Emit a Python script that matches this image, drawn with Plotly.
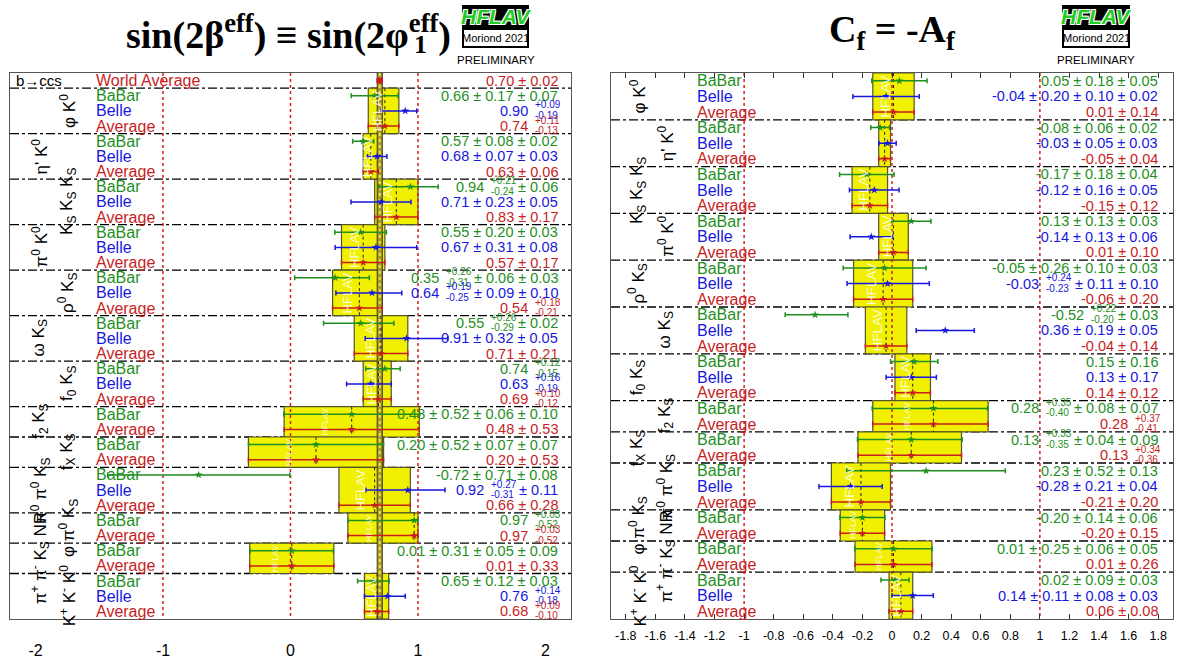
import math
import plotly.graph_objects as go

W, H = 1177, 662
SANS = "Liberation Sans, Arial, Helvetica, sans-serif"
SERIF = "Liberation Serif, Times New Roman, Times, serif"
GREEN = "#1f8f1f"
BLUE = "#1717e0"
RED = "#c81e1e"
EXP_COLOR = {"BaBar": GREEN, "Belle": BLUE, "Average": RED}

# ---------------- data ----------------
decays = ["φ K<sup>0</sup>", "η' K<sup>0</sup>", "K<sub>S</sub> K<sub>S</sub> K<sub>S</sub>",
          "π<sup>0</sup> K<sup>0</sup>", "ρ<sup>0</sup> K<sub>S</sub>", "ω K<sub>S</sub>",
          "f<sub>0</sub> K<sub>S</sub>", "f<sub>2</sub> K<sub>S</sub>", "f<sub>X</sub> K<sub>S</sub>",
          "π<sup>0</sup> π<sup>0</sup> K<sub>S</sub>", "φ π<sup>0</sup> K<sub>S</sub>",
          "π<sup>+</sup> π<sup>-</sup> K<sub>S</sub> NR", "K<sup>+</sup> K<sup>-</sup> K<sup>0</sup>"]

# sin(2beta_eff): errors given as (plus, minus) per component
S_wa_val = 0.70
S_wa_err = 0.02
S_babar_val = [0.66, 0.57, 0.94, 0.55, 0.35, 0.55, 0.74, 0.48, 0.20, -0.72, 0.97, 0.01, 0.65]
S_babar_err = [[(0.17, 0.17), (0.07, 0.07)], [(0.08, 0.08), (0.02, 0.02)], [(0.21, 0.24), (0.06, 0.06)],
               [(0.20, 0.20), (0.03, 0.03)], [(0.26, 0.31), (0.06, 0.06), (0.03, 0.03)],
               [(0.26, 0.29), (0.02, 0.02)], [(0.12, 0.15)], [(0.52, 0.52), (0.06, 0.06), (0.10, 0.10)],
               [(0.52, 0.52), (0.07, 0.07), (0.07, 0.07)], [(0.71, 0.71), (0.08, 0.08)], [(0.03, 0.52)],
               [(0.31, 0.31), (0.05, 0.05), (0.09, 0.09)], [(0.12, 0.12), (0.03, 0.03)]]
S_belle_val = [0.90, 0.68, 0.71, 0.67, 0.64, 0.91, 0.63, None, None, 0.92, None, None, 0.76]
S_belle_err = [[(0.09, 0.19)], [(0.07, 0.07), (0.03, 0.03)], [(0.23, 0.23), (0.05, 0.05)],
               [(0.31, 0.31), (0.08, 0.08)], [(0.19, 0.25), (0.09, 0.09), (0.10, 0.10)],
               [(0.32, 0.32), (0.05, 0.05)], [(0.16, 0.19)], None, None, [(0.27, 0.31), (0.11, 0.11)],
               None, None, [(0.14, 0.18)]]
S_avg_val = [0.74, 0.63, 0.83, 0.57, 0.54, 0.71, 0.69, 0.48, 0.20, 0.66, 0.97, 0.01, 0.68]
S_avg_err = [(0.11, 0.13), (0.06, 0.06), (0.17, 0.17), (0.17, 0.17), (0.18, 0.21), (0.21, 0.21),
             (0.10, 0.12), (0.53, 0.53), (0.53, 0.53), (0.28, 0.28), (0.03, 0.52), (0.33, 0.33), (0.09, 0.10)]

# C_f = -A_f
C_babar_val = [0.05, -0.08, -0.17, 0.13, -0.05, -0.52, 0.15, 0.28, 0.13, 0.23, -0.20, 0.01, 0.02]
C_babar_err = [[(0.18, 0.18), (0.05, 0.05)], [(0.06, 0.06), (0.02, 0.02)], [(0.18, 0.18), (0.04, 0.04)],
               [(0.13, 0.13), (0.03, 0.03)], [(0.26, 0.26), (0.10, 0.10), (0.03, 0.03)],
               [(0.22, 0.20), (0.03, 0.03)], [(0.16, 0.16)], [(0.35, 0.40), (0.08, 0.08), (0.07, 0.07)],
               [(0.33, 0.35), (0.04, 0.04), (0.09, 0.09)], [(0.52, 0.52), (0.13, 0.13)],
               [(0.14, 0.14), (0.06, 0.06)], [(0.25, 0.25), (0.06, 0.06), (0.05, 0.05)],
               [(0.09, 0.09), (0.03, 0.03)]]
C_belle_val = [-0.04, -0.03, -0.12, -0.14, -0.03, 0.36, 0.13, None, None, -0.28, None, None, 0.14]
C_belle_err = [[(0.20, 0.20), (0.10, 0.10), (0.02, 0.02)], [(0.05, 0.05), (0.03, 0.03)],
               [(0.16, 0.16), (0.05, 0.05)], [(0.13, 0.13), (0.06, 0.06)],
               [(0.24, 0.23), (0.11, 0.11), (0.10, 0.10)], [(0.19, 0.19), (0.05, 0.05)], [(0.17, 0.17)],
               None, None, [(0.21, 0.21), (0.04, 0.04)], None, None,
               [(0.11, 0.11), (0.08, 0.08), (0.03, 0.03)]]
C_avg_val = [0.01, -0.05, -0.15, 0.01, -0.06, -0.04, 0.14, 0.28, 0.13, -0.21, -0.20, 0.01, 0.06]
C_avg_err = [(0.14, 0.14), (0.04, 0.04), (0.12, 0.12), (0.10, 0.10), (0.20, 0.20), (0.14, 0.14),
             (0.12, 0.12), (0.37, 0.41), (0.34, 0.36), (0.20, 0.20), (0.15, 0.15), (0.26, 0.26), (0.08, 0.08)]

S_ticks = [-2, -1, 0, 1, 2]
C_ticks = [-1.8, -1.6, -1.4, -1.2, -1.0, -0.8, -0.6, -0.4, -0.2, 0.0, 0.2, 0.4, 0.6, 0.8, 1.0, 1.2, 1.4, 1.6, 1.8]
ref_lines = [-1, 0, 1]

# ---------------- helpers ----------------
CW = {c: 0.556 for c in "0123456789"}
CW.update({".": 0.278, " ": 0.278, "±": 0.584, "+": 0.584, "-": 0.333})


def tw(s, size):
    return sum(CW.get(c, 0.556) for c in s) * size


def quad(errs):
    hi = math.sqrt(sum(p * p for p, m in errs))
    lo = math.sqrt(sum(m * m for p, m in errs))
    return hi, lo


def tick_txt(v):
    if abs(v - round(v)) < 1e-9:
        return str(int(round(v)))
    return f"{v:.1f}"


def value_tokens(v, errs):
    toks, cur = [], f"{v:.2f}"
    for p, m in errs:
        if abs(p - m) < 1e-9:
            cur += f" ± {p:.2f}"
        else:
            toks.append(("t", cur.strip()))
            toks.append(("s", f"+{p:.2f}", f"-{m:.2f}"))
            cur = ""
    if cur.strip():
        toks.append(("t", cur.strip()))
    return toks


annotations = []
shapes = []
traces = []

Y_TOP, Y_BOT = 73, 619


def add_value(right_px, yref, y, v, errs, color, F=14.5, f=10, gap=3):
    x = right_px
    for tok in reversed(value_tokens(v, errs)):
        if tok[0] == "t":
            annotations.append(dict(xref="paper", yref=yref, x=x / W, y=y, xanchor="right", yanchor="middle",
                                    text=tok[1], showarrow=False, borderpad=0,
                                    font=dict(family=SANS, size=F, color=color)))
            x -= tw(tok[1], F) + gap
        else:
            w = max(tw(tok[1], f), tw(tok[2], f))
            for txt, dy in ((tok[1], 6), (tok[2], -4.5)):
                annotations.append(dict(xref="paper", yref=yref, x=(x - w) / W, y=y, xanchor="left",
                                        yanchor="middle", yshift=dy, text=txt, showarrow=False, borderpad=0,
                                        font=dict(family=SANS, size=f, color=color)))
            x -= w + gap + 2


def panel(xa, ya, dom, rng, nrows, offset, exp_x, val_right, cols, first_col,
          bab_v, bab_e, bel_v, bel_e, avg_v, avg_e):
    ppu = (dom[1] - dom[0]) / (rng[1] - rng[0])
    rows, groups = [], []
    for g in range(len(decays)):
        start = len(rows)
        rows.append(("BaBar", bab_v[g], bab_e[g]))
        if bel_v[g] is not None:
            rows.append(("Belle", bel_v[g], bel_e[g]))
        rows.append(("Average", avg_v[g], [avg_e[g]]))
        groups.append((start, len(rows)))
    # yellow average boxes
    for g, (s, e) in enumerate(groups):
        v = avg_v[g]
        hi, lo = avg_e[g]
        shapes.append(dict(type="rect", xref=xa, yref=ya, x0=v - lo, x1=v + hi, y0=s + offset, y1=e + offset,
                           fillcolor="#f0f000", line=dict(color="#55552b", width=1.2), layer="below"))
    # HFLAV watermark inside boxes
    for g, (s, e) in enumerate(groups):
        v = avg_v[g]
        hi, lo = avg_e[g]
        wpx = (hi + lo) * ppu
        hpx = (e - s) * (Y_BOT - Y_TOP) / nrows
        if wpx >= 13:
            size = min(14, hpx / 3.5)
            annotations.append(dict(xref=xa, yref=ya, x=v - lo + (hi + lo) * 0.3, y=(s + e) / 2 + offset,
                                    text="HFLAV", textangle=-90, showarrow=False,
                                    font=dict(family=SANS, size=size, color="rgba(255,255,255,0.85)")))
    # reference lines
    for r in ref_lines:
        shapes.append(dict(type="line", xref=xa, yref=ya, x0=r, x1=r, y0=0, y1=nrows,
                           line=dict(color="#d42020", width=1.5, dash="dot"), layer="below"))
    # dotted average line in box
    for g, (s, e) in enumerate(groups):
        shapes.append(dict(type="line", xref=xa, yref=ya, x0=avg_v[g], x1=avg_v[g], y0=s + offset,
                           y1=e + offset, line=dict(color="#222", width=1, dash="dot"), layer="below"))
    # separators
    seps = [s + offset for s, e in groups]
    for sy in seps:
        if sy > 0:
            shapes.append(dict(type="line", xref=xa + " domain", yref=ya, x0=0, x1=1, y0=sy, y1=sy,
                               line=dict(color="black", width=1.3, dash="dashdot"), layer="below"))
    # points with error bars
    for exp in ("BaBar", "Belle", "Average"):
        xs, ys, his, los = [], [], [], []
        for i, (ex, v, errs) in enumerate(rows):
            if ex != exp:
                continue
            hi, lo = quad(errs)
            xs.append(v)
            ys.append(i + 0.5 + offset)
            his.append(hi)
            los.append(lo)
        traces.append(go.Scatter(x=xs, y=ys, xaxis=xa, yaxis=ya, mode="markers", showlegend=False,
                                 marker=dict(symbol="star", size=6, color=EXP_COLOR[exp]),
                                 error_x=dict(type="data", symmetric=False, array=his, arrayminus=los,
                                              color=EXP_COLOR[exp], thickness=1.5, width=2.5)))
    # texts
    for i, (ex, v, errs) in enumerate(rows):
        y = i + 0.5 + offset
        annotations.append(dict(xref="paper", yref=ya, x=exp_x / W, y=y, xanchor="left", yanchor="middle",
                                text=ex, showarrow=False, borderpad=0,
                                font=dict(family=SANS, size=16, color=EXP_COLOR[ex])))
        add_value(val_right, ya, y, v, errs, EXP_COLOR[ex])
    for g, (s, e) in enumerate(groups):
        cx = cols[(g + first_col) % 2]
        annotations.append(dict(xref="paper", yref=ya, x=cx / W, y=(s + e) / 2 + offset, xanchor="center",
                                yanchor="middle", text=decays[g], textangle=-90, showarrow=False,
                                font=dict(family=SANS, size=17, color="black")))


# ---- left panel: sin(2beta) ----
# world average band
shapes.append(dict(type="rect", xref="x", yref="y", x0=S_wa_val - S_wa_err, x1=S_wa_val + S_wa_err, y0=0, y1=36,
                   fillcolor="#a8982e", line=dict(color="#3d3d1a", width=1), layer="below"))
panel("x", "y", (10, 571), (-2.2, 2.2), 36, 1, 95, 559, (40, 68), 1,
      S_babar_val, S_babar_err, S_belle_val, S_belle_err, S_avg_val, S_avg_err)
# draw the band after the boxes
band = shapes.pop(0)
n_boxes = len(decays)
shapes.insert(n_boxes, band)
shapes.insert(n_boxes + 1, dict(type="line", xref="x", yref="y", x0=S_wa_val, x1=S_wa_val, y0=0, y1=36,
                                line=dict(color="#f0e040", width=2, dash="dot"), layer="below"))
traces.append(go.Scatter(x=[S_wa_val], y=[0.5], xaxis="x", yaxis="y", mode="markers", showlegend=False,
                         marker=dict(symbol="square", size=6, color=RED),
                         error_x=dict(type="data", array=[S_wa_err], color=RED, thickness=1.5, width=2)))
annotations.append(dict(xref="paper", yref="y", x=95 / W, y=0.5, xanchor="left", yanchor="middle",
                        text="World Average", showarrow=False, borderpad=0,
                        font=dict(family=SANS, size=16, color=RED)))
add_value(559, "y", 0.5, S_wa_val, [(S_wa_err, S_wa_err)], RED)
annotations.append(dict(xref="paper", yref="y", x=15 / W, y=0.5, xanchor="left", yanchor="middle",
                        text="b→ccs", showarrow=False, borderpad=0,
                        font=dict(family=SANS, size=15, color="black")))

# ---- right panel: C_f ----
panel("x2", "y2", (611, 1173), (-1.9, 1.9), 35, 0, 696, 1159, (638, 666), 0,
      C_babar_val, C_babar_err, C_belle_val, C_belle_err, C_avg_val, C_avg_err)


# ---- titles and logos ----
def py(p):
    return 1 - p / H


annotations.append(dict(xref="paper", yref="paper", x=453 / W, y=py(32), xanchor="right", yanchor="middle",
                        text="<b>sin(2β<sup>eff</sup>) ≡ sin(2φ<sup>eff</sup>)</b>", showarrow=False,
                        font=dict(family=SERIF, size=38, color="black")))
annotations.append(dict(xref="paper", yref="paper", x=412 / W, y=py(44), xanchor="left", yanchor="middle",
                        text="<b>1</b>", showarrow=False, font=dict(family=SERIF, size=26, color="black")))
annotations.append(dict(xref="paper", yref="paper", x=892 / W, y=py(32), xanchor="center", yanchor="middle",
                        text="<b>C<sub>f</sub> = -A<sub>f</sub></b>", showarrow=False,
                        font=dict(family=SERIF, size=38, color="black")))

for lx0, lx1 in ((462, 529), (1062, 1130)):
    shapes.append(dict(type="rect", xref="paper", yref="paper", x0=lx0 / W, x1=lx1 / W, y0=py(48), y1=py(5),
                       fillcolor="black", line=dict(color="black", width=0)))
    shapes.append(dict(type="rect", xref="paper", yref="paper", x0=(lx0 + 2) / W, x1=(lx1 - 2) / W,
                       y0=py(46), y1=py(30), fillcolor="white", line=dict(color="black", width=0)))
    cx = (lx0 + lx1) / 2 / W
    annotations.append(dict(xref="paper", yref="paper", x=cx, y=py(17), xanchor="center", yanchor="middle",
                            text="HFLAV", showarrow=False,
                            font=dict(family=SANS, size=21, color="#22cc22", style="italic", weight="bold",
                                      shadow="-1px -1px 0 #fff, 1px -1px 0 #fff, -1px 1px 0 #fff, 1px 1px 0 #fff")))
    annotations.append(dict(xref="paper", yref="paper", x=cx, y=py(38), xanchor="center", yanchor="middle",
                            text="Moriond 2021", showarrow=False,
                            font=dict(family=SANS, size=11, color="black")))
    annotations.append(dict(xref="paper", yref="paper", x=cx, y=py(60), xanchor="center", yanchor="middle",
                            text="PRELIMINARY", showarrow=False,
                            font=dict(family=SANS, size=11.5, color="black")))

fig = go.Figure(traces)
ydom = [(H - Y_BOT) / H, (H - Y_TOP) / H]
common_x = dict(showgrid=False, zeroline=False, showline=True, linecolor="#555", linewidth=1.2, fixedrange=True)
common_y = dict(showgrid=False, zeroline=False, showline=True, mirror=True, linecolor="#555", linewidth=1.2,
                showticklabels=False, ticks="", fixedrange=True, domain=ydom)
fig.update_layout(
    width=W, height=H, autosize=False, margin=dict(l=0, r=0, t=0, b=0),
    paper_bgcolor="white", plot_bgcolor="white", showlegend=False,
    xaxis=dict(domain=[10 / W, 571 / W], range=[-2.2, 2.2], anchor="y", mirror=True, ticks="",
               tickvals=S_ticks, ticktext=[tick_txt(v) for v in S_ticks], ticklabelstandoff=17,
               tickfont=dict(family=SANS, size=16, color="black"), **common_x),
    yaxis=dict(range=[36, 0], anchor="x", **common_y),
    xaxis2=dict(domain=[611 / W, 1173 / W], range=[-1.9, 1.9], anchor="y2", mirror="ticks", ticks="inside",
                ticklen=5, tickcolor="#333", tickvals=C_ticks, ticktext=[tick_txt(v) for v in C_ticks],
                ticklabelstandoff=5, tickfont=dict(family=SANS, size=12.5, color="black"), **common_x),
    yaxis2=dict(range=[35, 0], anchor="x2", **common_y),
    shapes=shapes, annotations=annotations,
)
fig.write_html("out.html", config={"displayModeBar": False},
               post_script="document.body.style.margin='0';document.body.style.overflow='hidden';")
